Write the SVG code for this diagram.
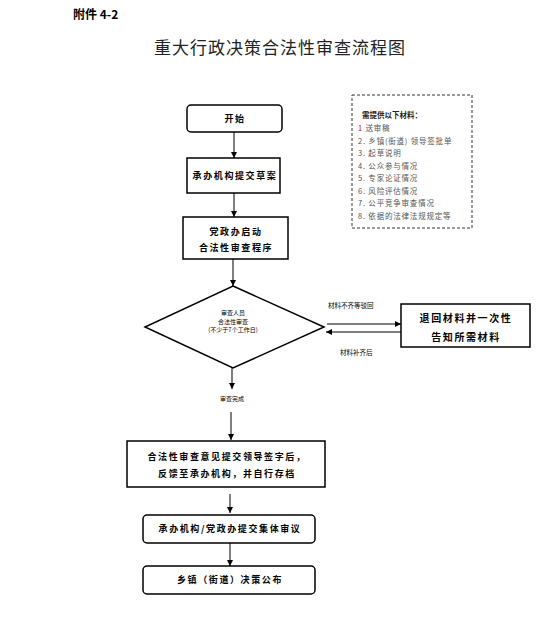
<svg xmlns="http://www.w3.org/2000/svg" width="559" height="636" viewBox="0 0 559 636">
<defs>
<marker id="ah" viewBox="0 0 10 10" refX="10" refY="5" markerWidth="6" markerHeight="6" orient="auto" markerUnits="userSpaceOnUse">
<path d="M0,0 L10,5 L0,10 z" fill="#000"/>
</marker>
<style>
text{font-family:"Noto Sans CJK SC","Liberation Sans",sans-serif;fill:#000}
.box{fill:#fff;stroke:#000;stroke-width:1.5}
.t{font-size:9px;font-weight:bold;letter-spacing:1.6px;text-anchor:middle}
.s{font-size:6px;text-anchor:middle}
.ln{stroke:#000;stroke-width:1;fill:none}
.lst{font-size:7.5px;fill:#555;letter-spacing:0.8px}
</style>
</defs>
<rect width="559" height="636" fill="#fff"/>
<text x="73" y="19" style="font-size:12px;font-weight:bold">附件 4-2</text>
<text x="280" y="54" style="font-size:17px;text-anchor:middle;letter-spacing:1px;fill:#222">重大行政决策合法性审查流程图</text>

<g id="materials">
<rect x="352" y="95" width="120" height="133" fill="none" stroke="#333" stroke-width="1" stroke-dasharray="3,2"/>
<text x="362" y="118" style="font-size:7.5px;font-weight:bold;fill:#222">需提供以下材料：</text>
<text x="358" y="131" class="lst"><tspan fill="#c00">1</tspan> 送审稿</text>
<text x="358" y="143.5" class="lst">2. 乡镇(街道) 领导签批单</text>
<text x="358" y="156" class="lst">3. 起草说明</text>
<text x="358" y="168.5" class="lst">4. 公众参与情况</text>
<text x="358" y="181" class="lst">5. 专家论证情况</text>
<text x="358" y="193.5" class="lst">6. 风险评估情况</text>
<text x="358" y="206" class="lst">7. 公平竞争审查情况</text>
<text x="358" y="218.5" class="lst">8. 依据的法律法规规定等</text>
</g>

<g id="start">
<rect x="187" y="105" width="95" height="27" rx="4" class="box"/>
<text x="235" y="121.5" class="t">开始</text>
</g>
<g id="submit">
<rect x="187" y="158" width="93" height="35" class="box"/>
<text x="235" y="179" class="t">承办机构提交草案</text>
</g>
<g id="launch">
<rect x="183" y="217" width="105" height="42" class="box"/>
<text x="236" y="235" class="t">党政办启动</text>
<text x="236" y="251" class="t">合法性审查程序</text>
</g>
<g id="review">
<polygon points="233,286 324,327 233,368 145,327" class="box" stroke-width="1.2"/>
<text x="233" y="315" class="s">审查人员</text>
<text x="233" y="323.5" class="s">合法性审查</text>
<text x="233" y="332" class="s">(不少于7个工作日)</text>
</g>
<g id="return">
<rect x="401" y="304" width="129" height="43" class="box"/>
<text x="466" y="322" class="t" style="font-size:10px">退回材料并一次性</text>
<text x="466" y="341" class="t" style="font-size:10px">告知所需材料</text>
</g>
<g id="opinion">
<rect x="127" y="441" width="198" height="46" class="box"/>
<text x="227" y="460" class="t">合法性审查意见提交领导签字后，</text>
<text x="227" y="477" class="t">反馈至承办机构，并自行存档</text>
</g>
<g id="collective">
<rect x="143" y="515" width="172" height="28" rx="4" class="box"/>
<text x="230" y="532" class="t">承办机构/党政办提交集体审议</text>
</g>
<g id="publish">
<rect x="143" y="566" width="172" height="28" rx="4" class="box"/>
<text x="230" y="583" class="t">乡镇（街道）决策公布</text>
</g>

<g id="connectors">
<line x1="234" y1="132" x2="234" y2="158" class="ln" marker-end="url(#ah)"/>
<line x1="234" y1="193" x2="234" y2="217" class="ln" marker-end="url(#ah)"/>
<line x1="233" y1="259" x2="233" y2="286" class="ln" marker-end="url(#ah)"/>
<line x1="327" y1="324" x2="401" y2="324" class="ln" marker-end="url(#ah)"/>
<line x1="401" y1="332" x2="326" y2="332" class="ln" marker-end="url(#ah)"/>
<line x1="232" y1="368" x2="232" y2="389" class="ln" marker-end="url(#ah)"/>
<line x1="231" y1="412" x2="231" y2="440" class="ln" marker-end="url(#ah)"/>
<line x1="230" y1="494" x2="230" y2="513" class="ln" marker-end="url(#ah)"/>
<line x1="230" y1="543" x2="230" y2="566" class="ln" marker-end="url(#ah)"/>
</g>
<text x="232" y="401" class="s">审查完成</text>
<text x="328" y="308" style="font-size:6.5px">材料不齐等驳回</text>
<text x="340" y="355" style="font-size:6.5px">材料补齐后</text>
</svg>
